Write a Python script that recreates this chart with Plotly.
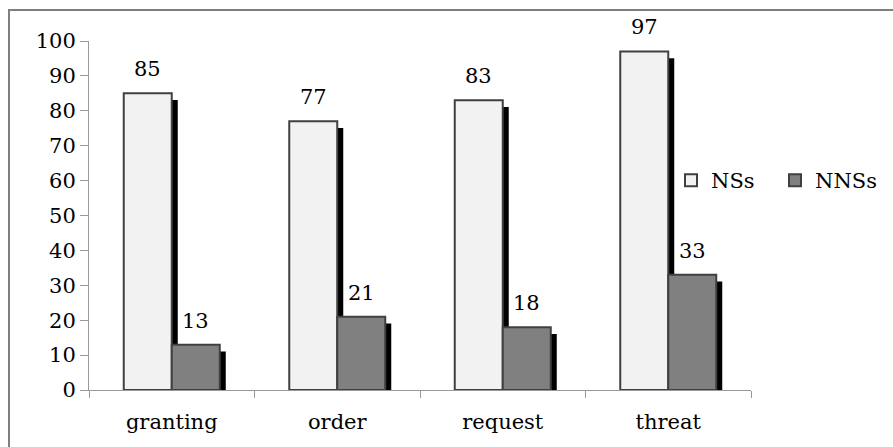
import plotly.graph_objects as go

# Speech act categories and percentages per group
categories = ["granting", "order", "request", "threat"]
ns_values = [85, 77, 83, 97]
nns_values = [13, 21, 18, 33]

W, H = 893, 447
M_L, M_R, M_T, M_B = 89, 142, 41, 57
plot_w = W - M_L - M_R
plot_h = H - M_T - M_B
y_max = 100

cat_px = plot_w / len(categories)
bar_w = 48 / cat_px            # bar width in category units
shadow_dx = 6 / cat_px         # shadow shift to the right
shadow_dy = 5 * y_max / plot_h # shadow drop in value units

FONT = "DejaVu Serif"
FS = 21
OUTLINE = "#404040"

fig = go.Figure()

def add_series(name, values, offset, fill, show):
    # drop shadow behind each bar
    fig.add_trace(go.Bar(
        x=categories, y=[v - shadow_dy for v in values], base=-0.5,
        width=bar_w, offset=offset + shadow_dx,
        marker=dict(color="black", line=dict(width=0)),
        showlegend=False, hoverinfo="skip"))
    fig.add_trace(go.Bar(
        x=categories, y=values, name=name,
        width=bar_w, offset=offset,
        marker=dict(color=fill, line=dict(color=OUTLINE, width=2)),
        showlegend=show))
    for c, v in zip(categories, values):
        fig.add_annotation(
            x=c, y=v, text=str(v), showarrow=False,
            xshift=(offset + bar_w / 2) * cat_px, yshift=24,
            font=dict(family=FONT, size=FS, color="black"))

add_series("NSs", ns_values, -bar_w, "#F2F2F2", True)
add_series("NNSs", nns_values, 0, "#808080", True)

fig.update_layout(
    width=W, height=H,
    margin=dict(l=M_L, r=M_R, t=M_T, b=M_B, autoexpand=False),
    paper_bgcolor="white", plot_bgcolor="white",
    barmode="overlay",
    font=dict(family=FONT, size=FS, color="black"),
    legend=dict(orientation="h", xref="container", x=671 / W, y=0.6,
                xanchor="left", yanchor="middle",
                font=dict(family=FONT, size=21), itemwidth=30,
                entrywidth=59, entrywidthmode="pixels",
                bgcolor="rgba(0,0,0,0)"),
    showlegend=True,
)
fig.update_xaxes(
    range=[-0.5, len(categories) - 0.5], showline=True, linecolor="#999999", linewidth=1,
    ticks="outside", tickson="boundaries", ticklen=7, tickcolor="#999999",
    ticklabelstandoff=13,
    showgrid=False, zeroline=False, tickfont=dict(family=FONT, size=FS))
fig.update_yaxes(
    range=[0, y_max], dtick=10, showline=True, linecolor="#999999", linewidth=1,
    ticks="outside", ticklen=8, tickcolor="#999999", showgrid=False, zeroline=False,
    tickfont=dict(family=FONT, size=FS))

# outer chart frame
fig.add_shape(type="rect", xref="paper", yref="paper",
              x0=(9 - M_L) / plot_w, x1=2,
              y0=-1, y1=1 + (M_T - 10) / plot_h,
              line=dict(color="#7f7f7f", width=2), layer="below")

fig.write_html("out.html")
